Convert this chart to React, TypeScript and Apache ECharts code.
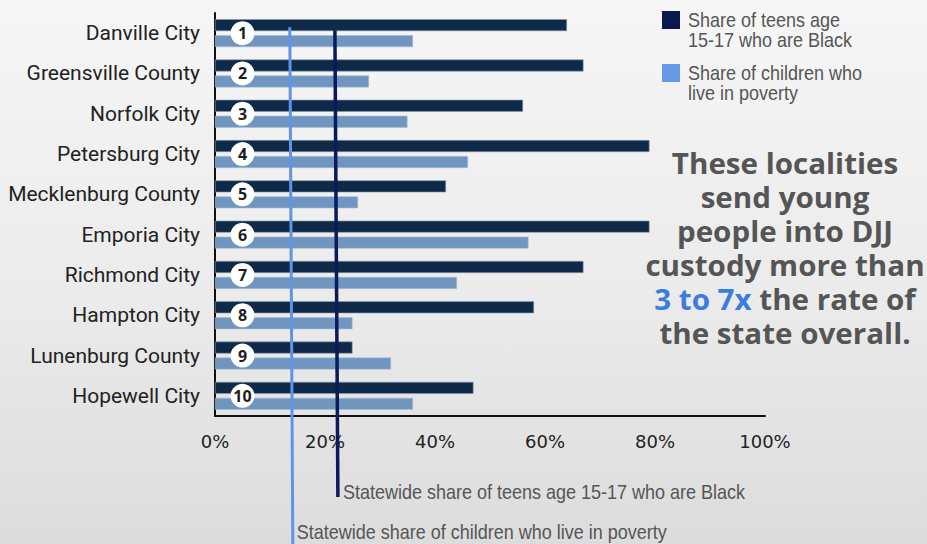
import React, { useEffect, useRef } from "react";
import * as echarts from "echarts";

const categories = [
  "Danville City",
  "Greensville County",
  "Norfolk City",
  "Petersburg City",
  "Mecklenburg County",
  "Emporia City",
  "Richmond City",
  "Hampton City",
  "Lunenburg County",
  "Hopewell City",
];
const blackTeenShare = [64, 67, 56, 79, 42, 79, 67, 58, 25, 47];
const povertyShare = [36, 28, 35, 46, 26, 57, 44, 25, 32, 36];
const ranks = [1, 2, 3, 4, 5, 6, 7, 8, 9, 10];
const rankMarkerX = 5;
const statewideBlack = 21.8;
const statewidePoverty = 13.6;
const xMin = 0;
const xMax = 100;
const xInterval = 20;

const seriesNames = ["Share of teens age\n15-17 who are Black", "Share of children who\nlive in poverty"];
const annotationBlack = "Statewide share of teens age 15-17 who are Black";
const annotationPoverty = "Statewide share of children who live in poverty";
const headlineLines = [
  "These localities",
  "send young",
  "people into DJJ",
  "custody more than",
  "{b|3 to 7x} the rate of",
  "the state overall.",
];

const NARROW = '"Liberation Sans", Arial, sans-serif';
const HEAD_FONT = '"Open Sans", sans-serif';

export default function App() {
  const ref = useRef<HTMLDivElement>(null);
  useEffect(() => {
    if (!ref.current) return;
    const chart = echarts.init(ref.current, null, { renderer: "svg" });
    chart.setOption({
      animation: false,
      grid: { left: 215, right: 162, top: 13, bottom: 128, containLabel: false },
      xAxis: {
        type: "value",
        min: xMin,
        max: xMax,
        interval: xInterval,
        splitLine: { show: false },
        axisTick: { show: false },
        axisLine: { show: true, lineStyle: { color: "#111", width: 2 } },
        axisLabel: {
          formatter: "{value}%",
          fontSize: 18,
          color: "#222",
          fontFamily: '"DejaVu Sans", sans-serif',
          margin: 16,
        },
      },
      yAxis: {
        type: "category",
        data: categories,
        inverse: true,
        axisTick: { show: false },
        axisLine: { show: true, lineStyle: { color: "#111", width: 2 } },
        axisLabel: {
          fontSize: 21,
          color: "#222",
          fontFamily: "Roboto, sans-serif",
          margin: 15,
        },
      },
      series: [
        {
          name: seriesNames[0],
          type: "bar",
          data: blackTeenShare,
          barWidth: 12,
          barGap: "33%",
          itemStyle: { color: "#0f2a48", borderColor: "#8a9bb0", borderWidth: 0.6 },
        },
        {
          name: seriesNames[1],
          type: "bar",
          data: povertyShare,
          barWidth: 12,
          itemStyle: { color: "#7096c0", borderColor: "#a8bdd6", borderWidth: 0.6 },
        },
        {
          type: "scatter",
          data: ranks.map((r, i) => [rankMarkerX, i]),
          symbol: "circle",
          symbolSize: 24,
          z: 10,
          itemStyle: { color: "#ffffff", opacity: 1 },
          label: {
            show: true,
            position: "inside",
            formatter: (p: any) => String(ranks[p.dataIndex]),
            fontSize: 16,
            fontWeight: "bold",
            color: "#1e1e1e",
            fontFamily: '"Open Sans", sans-serif',
          },
        },
      ],
    });

    const xb = chart.convertToPixel({ xAxisIndex: 0 }, statewideBlack) as number;
    const xp = chart.convertToPixel({ xAxisIndex: 0 }, statewidePoverty) as number;
    const yFirst = chart.convertToPixel({ yAxisIndex: 0 }, 0) as number;
    const H = 544;

    const headline = headlineLines.map((line, i) => ({
      type: "text",
      z: 100,
      x: 785,
      y: 163 + i * 34,
      scaleX: 1.02,
      style: {
        text: line,
        align: "center",
        verticalAlign: "middle",
        fontSize: 29,
        fontWeight: "bold",
        fontFamily: HEAD_FONT,
        fill: "#555",
        rich: {
          b: { fill: "#3a7de0", fontSize: 29, fontWeight: "bold", fontFamily: HEAD_FONT },
        },
      },
    }));

    chart.setOption({
      graphic: [
        {
          type: "line",
          z: 100,
          shape: { x1: xp, y1: yFirst - 6, x2: xp + 3, y2: H },
          style: { stroke: "#5f94e6", lineWidth: 3 },
        },
        {
          type: "line",
          z: 100,
          shape: { x1: xb, y1: yFirst - 3, x2: xb + 3, y2: 497 },
          style: { stroke: "#0a1a5a", lineWidth: 3.5 },
        },
        {
          type: "text",
          z: 100,
          x: xb + 8,
          y: 492,
          scaleX: 0.9,
          style: {
            text: annotationBlack,
            fontSize: 20,
            fontFamily: NARROW,
            fill: "#555",
            verticalAlign: "middle",
          },
        },
        {
          type: "text",
          z: 100,
          x: xp + 7,
          y: 532,
          scaleX: 0.9,
          style: {
            text: annotationPoverty,
            fontSize: 20,
            fontFamily: NARROW,
            fill: "#555",
            verticalAlign: "middle",
          },
        },
        { type: "rect", shape: { x: 662, y: 11, width: 18, height: 18 }, style: { fill: "#0a1850" } },
        {
          type: "text",
          x: 688,
          y: 10,
          scaleX: 0.9,
          style: { text: seriesNames[0], fontSize: 20, lineHeight: 20, fontFamily: NARROW, fill: "#555" },
        },
        { type: "rect", shape: { x: 662, y: 64, width: 18, height: 18 }, style: { fill: "#6699e8" } },
        {
          type: "text",
          x: 688,
          y: 63,
          scaleX: 0.9,
          style: { text: seriesNames[1], fontSize: 20, lineHeight: 20, fontFamily: NARROW, fill: "#555" },
        },
        ...headline,
      ],
    });
    return () => chart.dispose();
  }, []);
  return (
    <div
      style={{
        position: "absolute",
        left: 0,
        top: 0,
        width: 927,
        height: 544,
        background: "linear-gradient(180deg, #f6f6f6 0%, #ebebeb 55%, #dcdcdc 100%)",
      }}
    >
      <div ref={ref} style={{ width: 927, height: 544 }} />
    </div>
  );
}
